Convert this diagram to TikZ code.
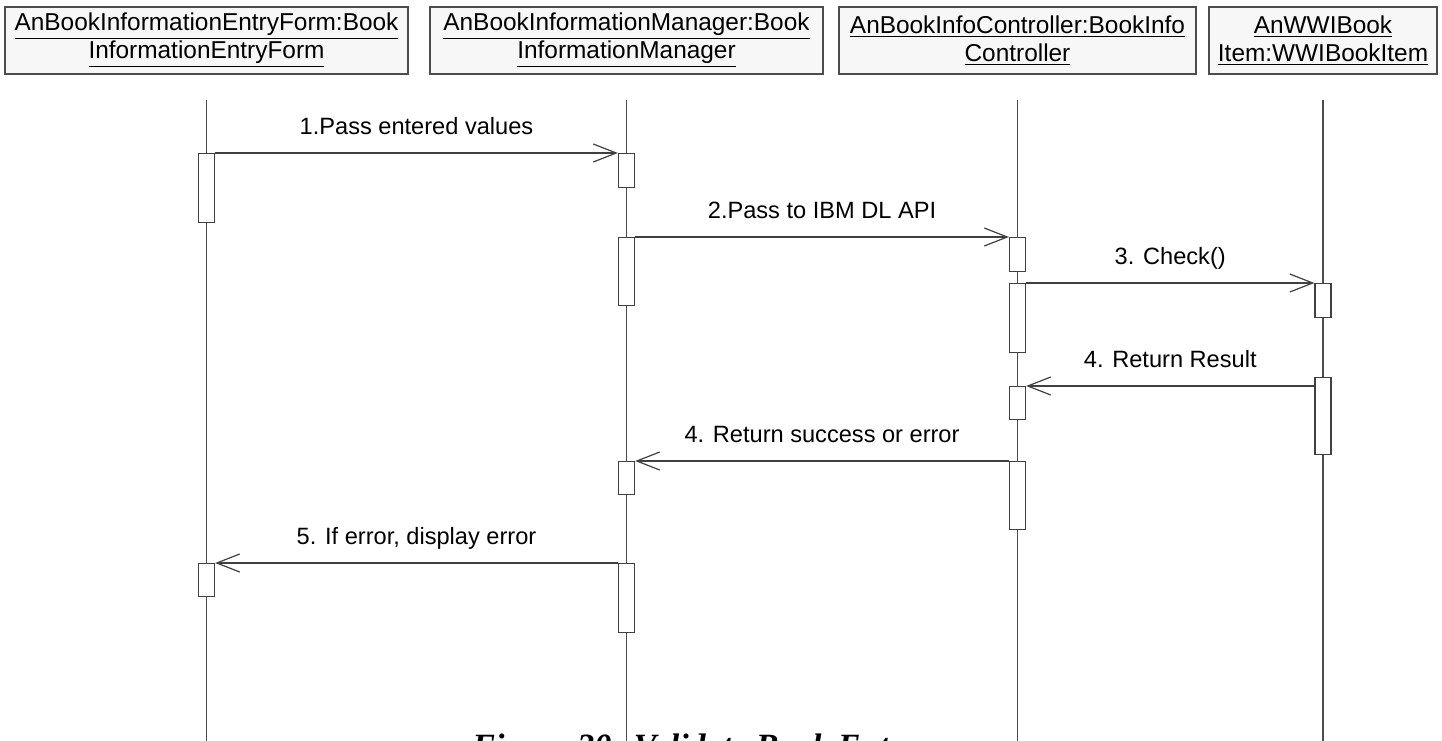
\documentclass[tikz,border=0pt]{standalone}
\usepackage{fontspec}
\setmainfont{Liberation Sans}
\newfontfamily\capfont{Liberation Serif}
\usetikzlibrary{arrows.meta, positioning}

\begin{document}
\begin{tikzpicture}[
  x=0.5pt, y=-0.5pt,
  font=\fontsize{11.8}{14}\selectfont,
  obj/.style={rectangle, draw=black!70, fill=black!3, minimum height=33.5pt,
    align=center, inner sep=0pt, line width=0.6pt, font=\fontsize{12.2}{14}\selectfont},
  life/.style={draw=black!70, line width=0.6pt},
  act/.style={rectangle, draw=black!75, fill=white, minimum width=8pt,
    inner sep=0pt, anchor=north, line width=0.6pt},
  msg/.style={-{Straight Barb[length=11.5pt, width=9pt]}, draw=black!75, line width=0.6pt},
  lbl/.style={anchor=base, yshift=9.5pt, inner sep=0pt}
]
\useasboundingbox (0,0) rectangle (1442,740);

% objects
\node[obj, minimum width=201.5pt] (h1) at (206.5,40.5)
  {\underline{AnBookInformationEntryForm:Book}\\ \underline{InformationEntryForm}};
\node[obj, minimum width=196.5pt] (h2) at (626.5,40.5)
  {\underline{AnBookInformationManager:Book}\\ \underline{InformationManager}};
\node[obj, minimum width=178.5pt] (h3) at (1017.5,40.5)
  {\underline{AnBookInfoController:BookInfo}\\ \underline{Controller}};
\node[obj, minimum width=114pt] (h4) at (1323,40.5)
  {\underline{AnWWIBook}\\ \underline{Item:WWIBookItem}};

% lifelines
\draw[life] ([yshift=-12.5pt]h1.south) -- ++(0,641);
\draw[life] ([yshift=-12.5pt]h2.south) -- ++(0,641);
\draw[life] ([yshift=-12.5pt]h3.south) -- ++(0,641);
\draw[life] ([yshift=-12.5pt]h4.south) -- ++(0,641);

% activations
\node[act, minimum height=34.5pt] (a1) at (206.5,153) {};
\node[act, minimum height=17pt] (b1) at (626.5,153) {};
\node[act, minimum height=34pt] (b2) at (626.5,237) {};
\node[act, minimum height=17pt] (c1) at (1017.5,237) {};
\node[act, minimum height=34.5pt] (c2) at (1017.5,283) {};
\node[act, minimum height=17pt] (d1) at (1323,283) {};
\node[act, minimum height=38.5pt] (d2) at (1323,377) {};
\node[act, minimum height=16.5pt] (c3) at (1017.5,386) {};
\node[act, minimum height=34pt] (c4) at (1017.5,461) {};
\node[act, minimum height=16.5pt] (b3) at (626.5,461) {};
\node[act, minimum height=34.5pt] (b4) at (626.5,563) {};
\node[act, minimum height=16.5pt] (a2) at (206.5,563) {};

% messages
\draw[msg] (a1.north east) -- node[lbl] {1.Pass entered values} (b1.north west);
\draw[msg] (b2.north east) -- node[lbl] {2.Pass to IBM DL API} (c1.north west);
\draw[msg] (c2.north east) -- node[lbl] {3. Check()} (d1.north west);
\draw[msg] (d2.west |- c3.north) -- node[lbl] {4. Return Result} (c3.north east);
\draw[msg] (c4.north west) -- node[lbl] {4. Return success or error} (b3.north east);
\draw[msg] (b4.north west) -- node[lbl] {5. If error, display error} (a2.north east);

\node[font=\capfont\bfseries\itshape\fontsize{17}{20}\selectfont, anchor=base west,
  inner sep=0pt] (cap) at (472,757) {Figure 30: Validate Book Entry};
\end{tikzpicture}
\end{document}
